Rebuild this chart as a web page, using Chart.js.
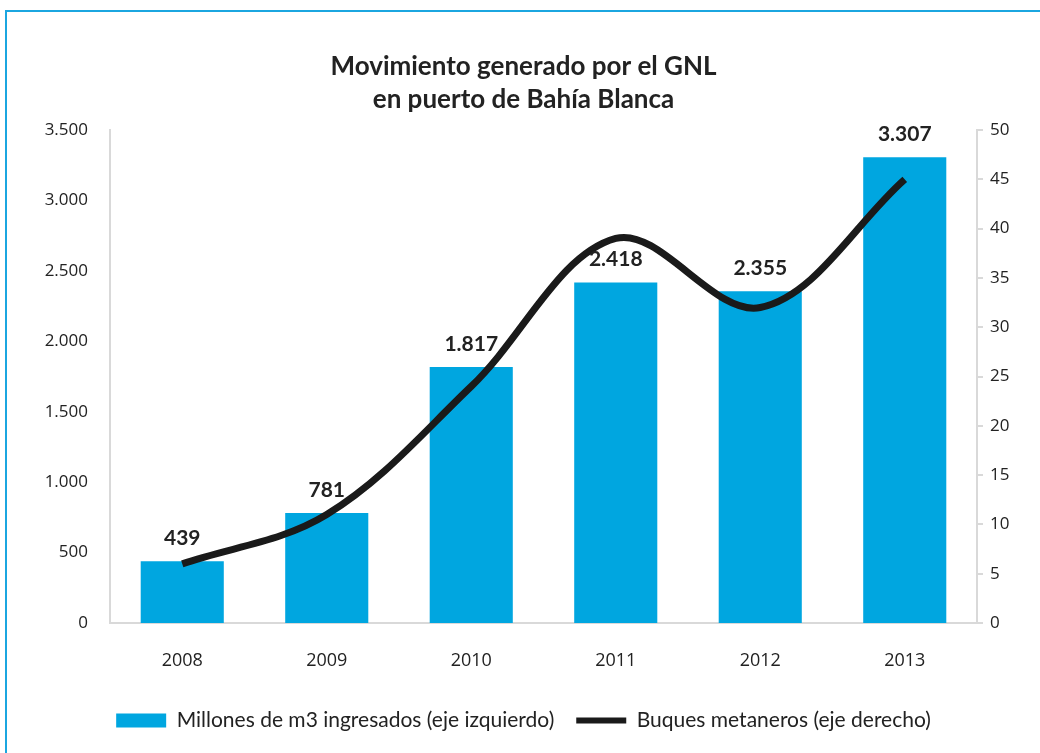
<!DOCTYPE html>
<html>
<head>
<meta charset="utf-8">
<script src="https://cdn.jsdelivr.net/npm/chart.js@4"></script>
<style>
    html, body { margin: 0; padding: 0; background: #fff; }
    #wrap { position: relative; width: 1040px; height: 753px; overflow: hidden; }
    #frame { position: absolute; left: 5px; top: 10px; width: 1100px; height: 800px; border-left: 2px solid #1ba6e0; border-top: 2px solid #1ba6e0; }
    #chart { position: absolute; left: 0; top: 0; }
</style>
</head>
<body>
<div id="wrap">
    <div id="frame"></div>
    <canvas id="chart" width="1040" height="753"></canvas>
</div>
<script>
let years = ['2008', '2009', '2010', '2011', '2012', '2013'];
let millonesM3 = [439, 781, 1817, 2418, 2355, 3307];
let buques = [6, 11, 24, 39, 32, 45];
let leftTicks = [0, 500, 1000, 1500, 2000, 2500, 3000, 3500];
let rightTicks = [0, 5, 10, 15, 20, 25, 30, 35, 40, 45, 50];

let barColor = '#00a6e0';
let axisColor = '#d9d9d9';
let textColor = '#222222';

// thousands with a dot, as in the original
function fmt(v) {
    return String(v).replace(/\B(?=(\d{3})+(?!\d))/g, '.');
}

let barLabels = {
    id: 'barLabels',
    afterDatasetsDraw: function (chart) {
        let ctx = chart.ctx;
        let meta = chart.getDatasetMeta(0);
        ctx.save();
        ctx.font = 'bold 21px Lato';
        ctx.fillStyle = textColor;
        ctx.textAlign = 'center';
        ctx.textBaseline = 'middle';
        meta.data.forEach(function (bar, i) {
            ctx.fillText(fmt(millonesM3[i]), bar.x, bar.y - 23);
        });
        ctx.restore();
    }
};

let chart = new Chart(document.getElementById('chart').getContext('2d'), {
    data: {
        labels: years,
        datasets: [{
            type: 'bar',
            label: 'Millones de m3 ingresados (eje izquierdo)',
            data: millonesM3,
            yAxisID: 'y',
            backgroundColor: barColor,
            borderWidth: 0,
            barPercentage: 0.575,
            categoryPercentage: 1,
            order: 1
        }, {
            type: 'line',
            label: 'Buques metaneros (eje derecho)',
            data: buques,
            yAxisID: 'y1',
            borderColor: '#1a1a1a',
            backgroundColor: '#1a1a1a',
            borderWidth: 7,
            pointRadius: 0,
            tension: 0.35,
            order: 0
        }]
    },
    options: {
        responsive: false,
        animation: false,
        devicePixelRatio: 1,
        layout: {
            padding: { top: 10, left: 20, right: 13, bottom: 12 }
        },
        plugins: {
            title: {
                display: true,
                text: ['Movimiento generado por el GNL', 'en puerto de Bahía Blanca'],
                color: textColor,
                font: { family: 'Lato', size: 26, weight: 'bold', lineHeight: 1.27 },
                padding: { top: 40, bottom: 14 }
            },
            legend: {
                position: 'bottom',
                labels: {
                    color: textColor,
                    font: { family: 'Lato', size: 21 },
                    usePointStyle: true,
                    pointStyleWidth: 50,
                    boxHeight: 14,
                    padding: 22,
                    sort: function (a, b) { return a.datasetIndex - b.datasetIndex; },
                    generateLabels: function (chart) {
                        let items = Chart.defaults.plugins.legend.labels.generateLabels(chart);
                        items.forEach(function (it) {
                            if (it.datasetIndex === 0) {
                                it.pointStyle = 'rect';
                                it.lineWidth = 0;
                                it.strokeStyle = barColor;
                                it.fillStyle = barColor;
                            } else {
                                it.pointStyle = 'line';
                                it.lineWidth = 6;
                                it.strokeStyle = '#1a1a1a';
                            }
                        });
                        return items;
                    }
                }
            },
            tooltip: { enabled: false }
        },
        scales: {
            x: {
                grid: { display: false, drawTicks: false },
                border: { display: true, color: axisColor, width: 2 },
                ticks: {
                    color: textColor,
                    font: { family: 'Open Sans', size: 18 },
                    padding: 27
                },
                afterFit: function (scale) { scale.height = 65; }
            },
            y: {
                position: 'left',
                min: 0,
                max: 3500,
                afterBuildTicks: function (scale) {
                    scale.ticks = leftTicks.map(function (v) { return { value: v }; });
                },
                grid: { display: false, drawTicks: false },
                border: { display: true, color: axisColor, width: 2 },
                ticks: {
                    color: textColor,
                    font: { family: 'Open Sans', size: 17 },
                    padding: 22,
                    callback: function (v) { return fmt(v); }
                },
                afterFit: function (scale) { scale.width = 90; }
            },
            y1: {
                position: 'right',
                min: 0,
                max: 50,
                afterBuildTicks: function (scale) {
                    scale.ticks = rightTicks.map(function (v) { return { value: v }; });
                },
                grid: { display: true, drawOnChartArea: false, drawTicks: true, tickLength: 6, color: axisColor, lineWidth: 2 },
                border: { display: true, color: axisColor, width: 2 },
                ticks: {
                    color: textColor,
                    font: { family: 'Open Sans', size: 17 },
                    padding: 7
                },
                afterFit: function (scale) { scale.width = 50; }
            }
        }
    },
    plugins: [barLabels]
});
</script>
</body>
</html>
